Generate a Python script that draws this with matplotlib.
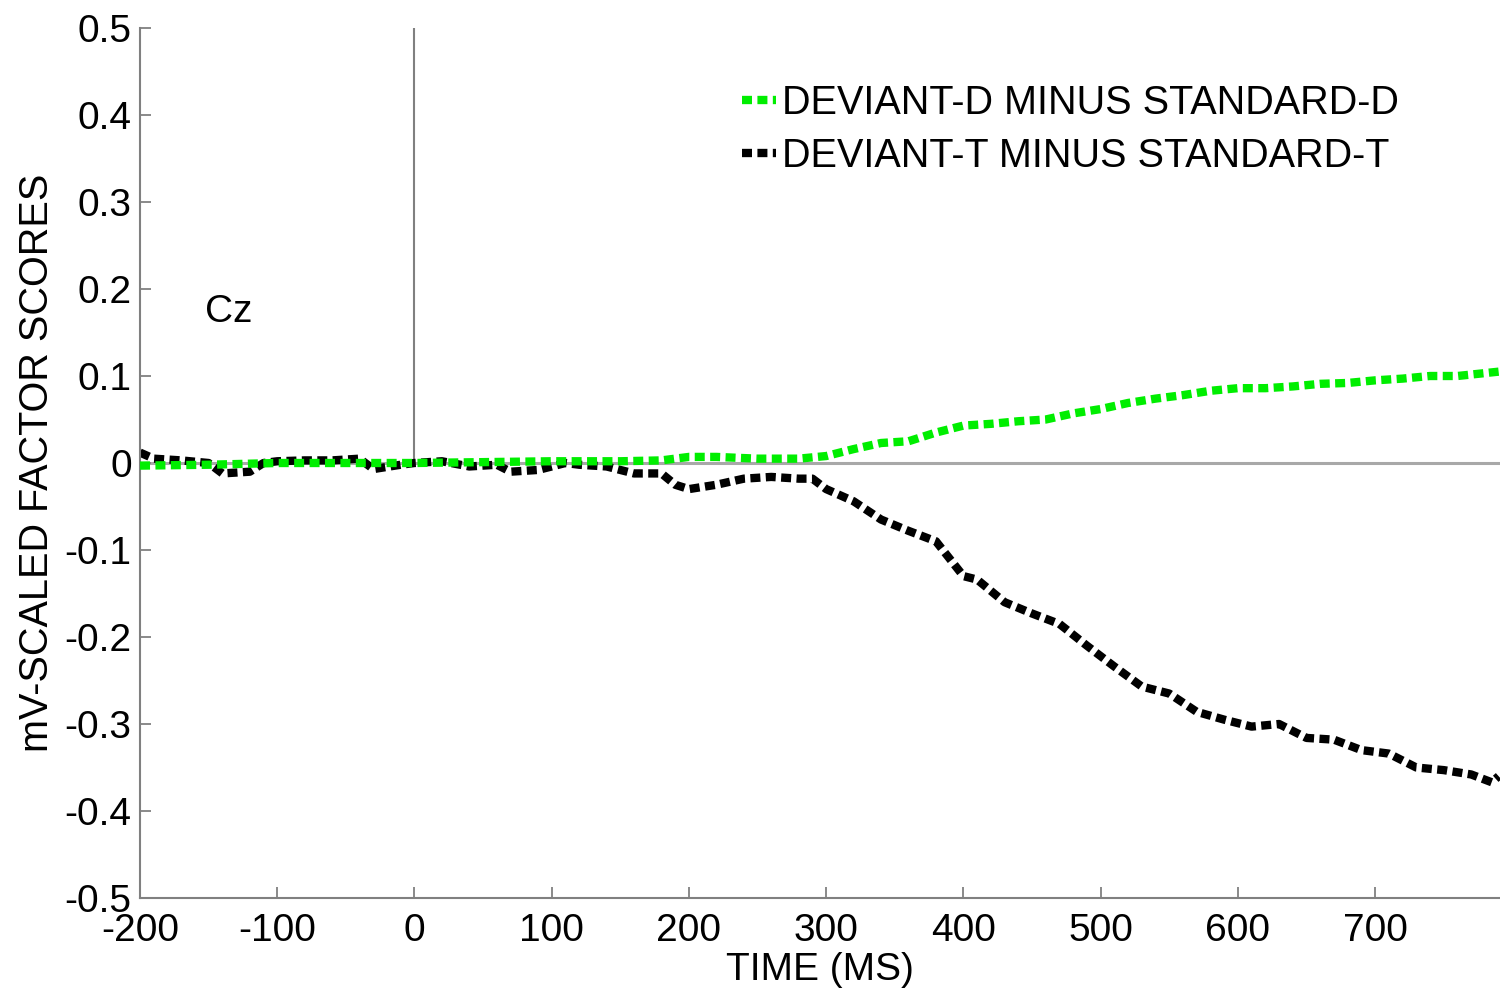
import matplotlib
matplotlib.use("Agg")
import matplotlib.pyplot as plt

plt.rcParams['font.family'] = ['Liberation Sans', 'DejaVu Sans']
plt.rcParams['axes.unicode_minus'] = False

# Data
time_d = [-200, -150, -100, -50, 0, 50, 100, 150, 180, 200, 220, 250, 280, 300, 320,
          340, 360, 380, 400, 420, 440, 460, 480, 500, 520, 540, 560, 580, 600, 620,
          640, 660, 680, 700, 720, 740, 760, 790]
dev_d = [-0.003, -0.002, 0.0, 0.0, 0.0, 0.001, 0.002, 0.002, 0.003, 0.007, 0.007, 0.005,
         0.005, 0.008, 0.016, 0.023, 0.025, 0.035, 0.043, 0.045, 0.048, 0.050, 0.057,
         0.062, 0.069, 0.074, 0.078, 0.083, 0.086, 0.086, 0.088, 0.091, 0.092, 0.095,
         0.097, 0.100, 0.100, 0.105]

time_t = [-200, -190, -170, -150, -140, -120, -110, -100, -80, -60, -40, -30, -10, 0,
          20, 40, 60, 70, 90, 110, 120, 140, 160, 180, 190, 200, 220, 240, 260, 280,
          290, 300, 320, 340, 360, 380, 400, 410, 430, 450, 470, 490, 510, 530, 550,
          570, 590, 610, 630, 650, 670, 690, 710, 730, 750, 770, 785, 790]
dev_t = [0.012, 0.005, 0.003, 0.0, -0.012, -0.010, 0.0, 0.002, 0.003, 0.003, 0.005,
         -0.007, -0.002, 0.0, 0.002, -0.004, -0.002, -0.010, -0.008, 0.0, -0.002,
         -0.004, -0.012, -0.012, -0.025, -0.030, -0.025, -0.018, -0.016, -0.018, -0.018,
         -0.030, -0.044, -0.065, -0.078, -0.090, -0.130, -0.134, -0.160, -0.173, -0.185,
         -0.210, -0.234, -0.257, -0.265, -0.286, -0.295, -0.303, -0.300, -0.316, -0.318,
         -0.330, -0.334, -0.350, -0.353, -0.358, -0.367, -0.360]

labels = ['DEVIANT-D MINUS STANDARD-D', 'DEVIANT-T MINUS STANDARD-T']
xticks = [-200, -100, 0, 100, 200, 300, 400, 500, 600, 700]
yticks = [0.5, 0.4, 0.3, 0.2, 0.1, 0, -0.1, -0.2, -0.3, -0.4, -0.5]
ytick_labels = ['0.5', '0.4', '0.3', '0.2', '0.1', '0', '-0.1', '-0.2', '-0.3', '-0.4', '-0.5']

fig = plt.figure(figsize=(15, 9.94), dpi=100)
ax = fig.add_axes([140/1500, 1-898/994, 1-140/1500, (898-28)/994])

ax.axhline(0, color='#a8a8a8', lw=2.2, zorder=1)
ax.plot([0, 0], [0, 0.5], color='#808080', lw=1.5, zorder=1)

ls = (0, (1.2, 0.65))
ax.plot(time_d, dev_d, color='#00ee00', lw=6, linestyle=ls, label=labels[0], zorder=3)
ax.plot(time_t, dev_t, color='black', lw=6, linestyle=ls, label=labels[1], zorder=2)

ax.set_xlim(-200, 791)
ax.set_ylim(-0.5, 0.5)
ax.set_xticks(xticks)
ax.set_xticklabels([str(t) for t in xticks])
ax.set_yticks(yticks)
ax.set_yticklabels(ytick_labels)

for s in ['top', 'right']:
    ax.spines[s].set_visible(False)
for s in ['left', 'bottom']:
    ax.spines[s].set_color('#808080')
    ax.spines[s].set_linewidth(1.5)

ax.tick_params(direction='in', length=8, width=1.3, color='#808080',
               labelsize=28, pad=6)
ax.tick_params(axis='x', pad=11)
ax.set_xlabel('TIME (MS)', fontsize=28, labelpad=2)
ax.set_ylabel('mV-SCALED FACTOR SCORES', fontsize=28.5, labelpad=6)

ax.text(-153, 0.173, 'Cz', fontsize=28, va='center', ha='left')

leg = ax.legend(loc='upper left', bbox_to_anchor=(742/1500, 1-84/994),
                bbox_transform=fig.transFigure, frameon=False, fontsize=28.5,
                handlelength=0.85, handletextpad=0.15, labelspacing=0.38,
                borderpad=0, borderaxespad=0)

fig.savefig('out.png', dpi=100)
